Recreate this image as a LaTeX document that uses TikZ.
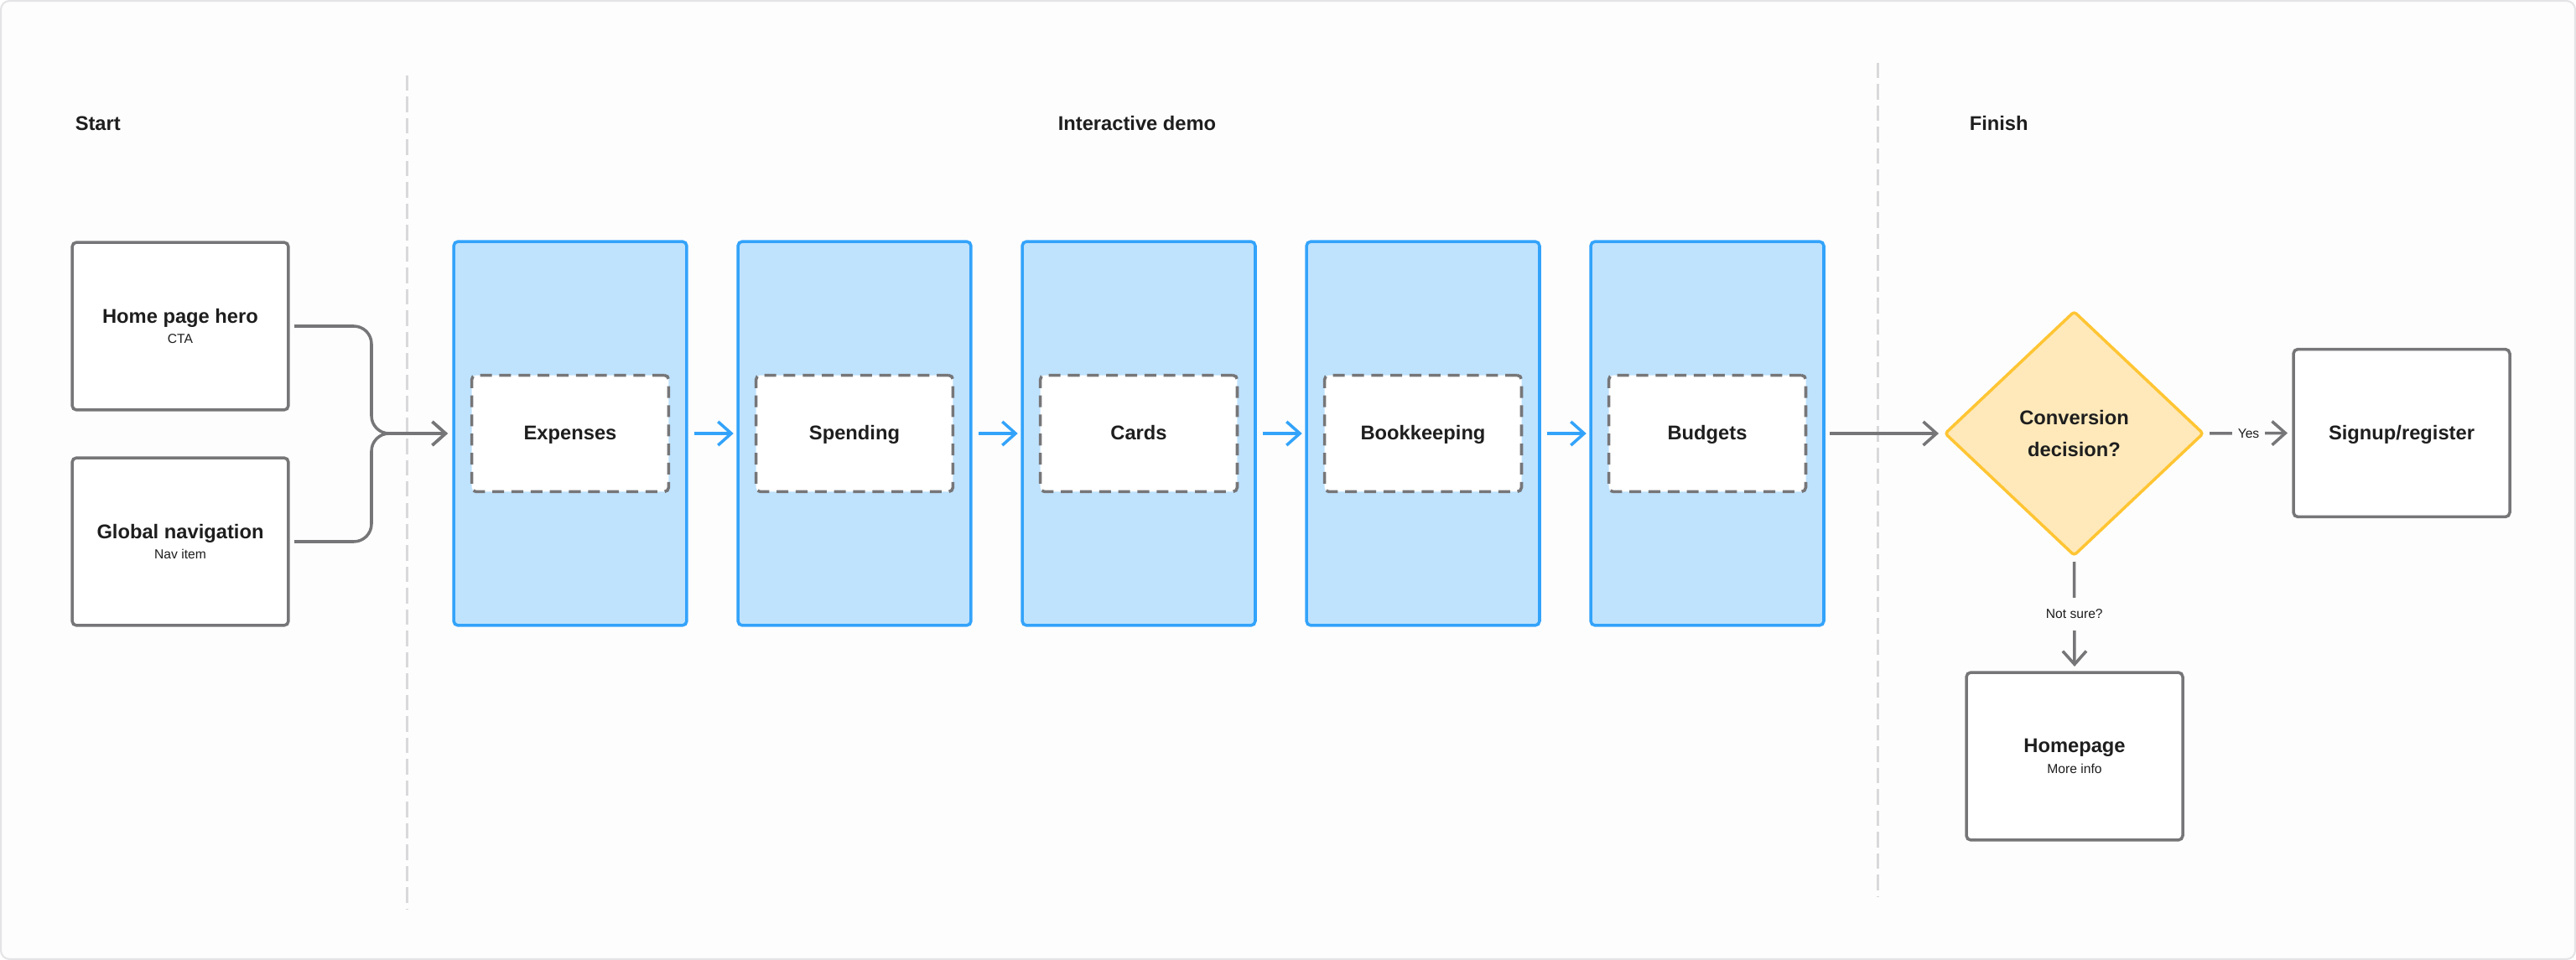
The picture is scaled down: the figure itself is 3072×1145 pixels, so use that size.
\documentclass[tikz,border=0pt]{standalone}
\usepackage{fontspec}
\setmainfont{Liberation Sans}
\usetikzlibrary{arrows.meta,shapes.geometric,positioning}
\definecolor{linegray}{RGB}{118,118,120}
\definecolor{sepgray}{RGB}{217,217,220}
\definecolor{framegray}{RGB}{228,228,230}
\definecolor{paper}{RGB}{253,253,253}
\definecolor{colfill}{RGB}{191,226,253}
\definecolor{colline}{RGB}{51,163,250}
\definecolor{decfill}{RGB}{255,233,186}
\definecolor{decline}{RGB}{255,197,51}
\definecolor{ink}{RGB}{30,30,30}
\newcommand{\boxtitle}{\fontsize{13.5}{16}\selectfont\bfseries}
\newcommand{\boxsub}{\fontsize{8.9}{12}\selectfont\mdseries}
\begin{document}
\begin{tikzpicture}[x=0.02cm, y=-0.02cm, line width=2pt,
   every node/.style={font=\boxtitle, text=ink},
   pagebox/.style={draw=linegray, fill=white, rounded corners=3pt,
     minimum width=5.16cm, minimum height=4cm, align=center},
   demopage/.style={draw=colline, fill=colfill, rounded corners=3pt,
     minimum width=5.56cm, minimum height=9.16cm},
   featurebox/.style={draw=linegray, fill=white, dash pattern=on 8pt off 5pt,
     rounded corners=3pt, minimum width=4.7cm, minimum height=2.78cm,
     text height=9pt, text depth=0pt},
   decisionbox/.style={diamond, draw=decline, fill=decfill, rounded corners=2pt,
     minimum width=6.18cm, minimum height=5.84cm, inner sep=0pt, align=center,
     font=\fontsize{13.5}{21.5}\selectfont\bfseries},
   grayarrow/.style={draw=linegray, -{Straight Barb[length=9pt,width=16pt]},
     shorten <=3pt, shorten >=3pt},
   bluearrow/.style={draw=colline, -{Straight Barb[length=9pt,width=16pt]},
     shorten <=4pt, shorten >=2pt},
   laneline/.style={draw=sepgray, line width=1.7pt, dash pattern=on 10.5pt off 4pt},
   answerlabel/.style={font=\boxsub, fill=paper, inner sep=4pt}]
\useasboundingbox (0,0) rectangle (3072,1145);
\draw[framegray, fill=paper, line width=1.2pt, rounded corners=6pt] (1,1) rectangle (3071,1144);
\draw[laneline] (485,90) -- (485,1085);
\draw[laneline] (2239.5,75) -- (2239.5,1070);
\node[anchor=west, inner sep=0pt] (start) at (88,147) {Start};
\node[inner sep=0pt] (demo) at (1356,147) {Interactive demo};
\node[anchor=west, inner sep=0pt] (finish) at (2347,147) {Finish};
\node[pagebox] (hero) at (215,389) {Home page hero\\[-2pt]{\boxsub CTA}};
\node[pagebox] (globalnav) at (215,646) {Global navigation\\[-2pt]{\boxsub Nav item}};
\foreach \lbl [count=\i] in {Expenses,Spending,Cards,Bookkeeping,Budgets} {
  \node[demopage] (col\i) at ({680+339*(\i-1)},517) {};
  \node[featurebox] (feat\i) at (col\i) {\lbl};
}
\foreach \i [evaluate=\i as \j using int(\i+1)] in {1,...,4}
  \draw[bluearrow] (col\i.east) -- (col\j.west);
\coordinate (merge) at (443,517);
\draw[grayarrow, rounded corners=12pt] (hero.east) -| (merge) -- (col1.west);
\draw[grayarrow, rounded corners=12pt] (globalnav.east) -| (merge) -- (col1.west);
\node[decisionbox] (decide) at (2473.5,517) {Conversion\\decision?};
\draw[grayarrow] (col5.east) -- (decide.west);
\node[pagebox, text height=9pt, text depth=0pt] (signup) at (2864,516.5) {Signup/register};
\node[pagebox] (homepage) at (2474,902) {Homepage\\[-2pt]{\boxsub More info}};
\draw[grayarrow] (decide.east) -- node[answerlabel] {Yes} (signup.west);
\draw[grayarrow] (decide.south) -- node[answerlabel, inner ysep=8pt] {Not sure?} (homepage.north);
\end{tikzpicture}
\end{document}
